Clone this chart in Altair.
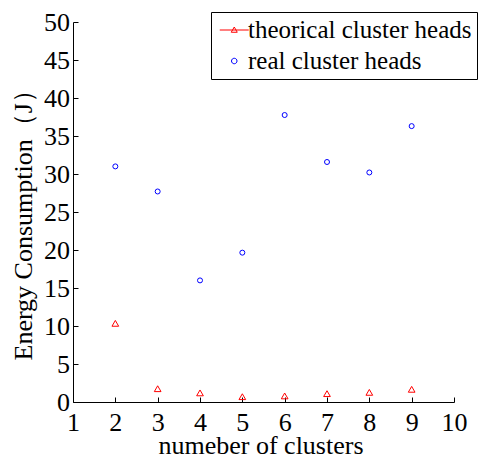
import altair as alt
import pandas as pd

clusters = [2, 3, 4, 5, 6, 7, 8, 9]
theorical = [10.35, 1.75, 1.2, 0.7, 0.8, 1.1, 1.27, 1.67]
real = [31.0, 27.7, 16.0, 19.65, 37.76, 31.58, 30.2, 36.3]
series_names = ["theorical cluster heads", "real cluster heads"]
x_ticks = list(range(1, 11))
y_ticks = list(range(0, 51, 5))

rows = []
for c, v in zip(clusters, theorical):
    rows.append({"clusters": c, "energy": v, "series": series_names[0], "marker": "tri", "msize": "big"})
for c, v in zip(clusters, real):
    rows.append({"clusters": c, "energy": v, "series": series_names[1], "marker": "circ", "msize": "small"})
df = pd.DataFrame(rows)

FONT = "Liberation Serif, Times New Roman, serif"
TRI_LINE = "M-1.22,0L1.1,0M-0.06,-0.24L0.18,0.18L-0.3,0.18Z"
SMALL_CIRCLE = "M0.16,0A0.22,0.22,0,1,1,-0.28,0A0.22,0.22,0,1,1,0.16,0Z"

legend = alt.Legend(
    title=None,
    orient="none",
    legendX=138,
    legendY=-10,
    strokeColor="black",
    fillColor="white",
    padding=5,
    symbolSize=625,
    symbolOffset=6,
    labelOffset=0,
    rowPadding=5,
    labelFont=FONT,
    labelFontSize=25,
    labelFontWeight="normal",
    labelColor="black",
    labelLimit=0,
    symbolStrokeWidth=1,
    cornerRadius=0,
    symbolType={"expr": f"datum.value === 'theorical cluster heads' ? '{TRI_LINE}' : '{SMALL_CIRCLE}'"},
)

chart = (
    alt.Chart(df)
    .mark_point(filled=False, strokeWidth=1, opacity=1)
    .encode(
        x=alt.X(
            "clusters:Q",
            scale=alt.Scale(domain=[1, 10], nice=False, zero=False),
            axis=alt.Axis(
                values=x_ticks,
                title="numeber of clusters",
                labelFont=FONT,
                labelFontSize=26,
                labelFontWeight="normal",
                tickSize={"expr": "-5"},
                labelPadding=12,
                titleX=187.5,
                titleY=51,
                titleAlign="center",
                titleBaseline="alphabetic",
            ),
        ),
        y=alt.Y(
            "energy:Q",
            scale=alt.Scale(domain=[0, 50], nice=False),
            axis=alt.Axis(
                values=y_ticks,
                title="Energy Consumption（J）",
                labelFont=FONT,
                labelFontSize=26,
                labelFontWeight="normal",
                tickSize={"expr": "-5"},
                labelPadding=8.5,
                titleAngle=270,
                titleX=-42,
                titleY=338,
                titleAlign="left",
                titleBaseline="alphabetic",
            ),
        ),
        color=alt.Color(
            "series:N",
            scale=alt.Scale(domain=series_names, range=["#ff0000", "#0000ff"]),
            legend=legend,
        ),
        shape=alt.Shape(
            "marker:N",
            scale=alt.Scale(domain=["tri", "circ"], range=["triangle-up", "circle"]),
            legend=None,
        ),
        size=alt.Size(
            "msize:N",
            scale=alt.Scale(domain=["big", "small"], range=[45, 25]),
            legend=None,
        ),
    )
    .properties(
        width=381,
        height=380,
        autosize=alt.AutoSizeParams(type="none"),
        padding={"left": 65, "top": 14, "right": 24, "bottom": 54},
    )
    .configure_view(stroke=None)
    .configure_axis(
        grid=False,
        labelFont=FONT,
        labelFontSize=26,
        labelColor="black",
        titleFont=FONT,
        titleFontSize=26,
        titleColor="black",
        titleFontWeight="normal",
        domainColor="black",
        domainWidth=1,
        tickColor="black",
        tickWidth=1,
        labelFlush=False,
        labelOverlap=False,
    )
)

chart.save("out.html", embed_options={"renderer": "svg", "actions": False})
